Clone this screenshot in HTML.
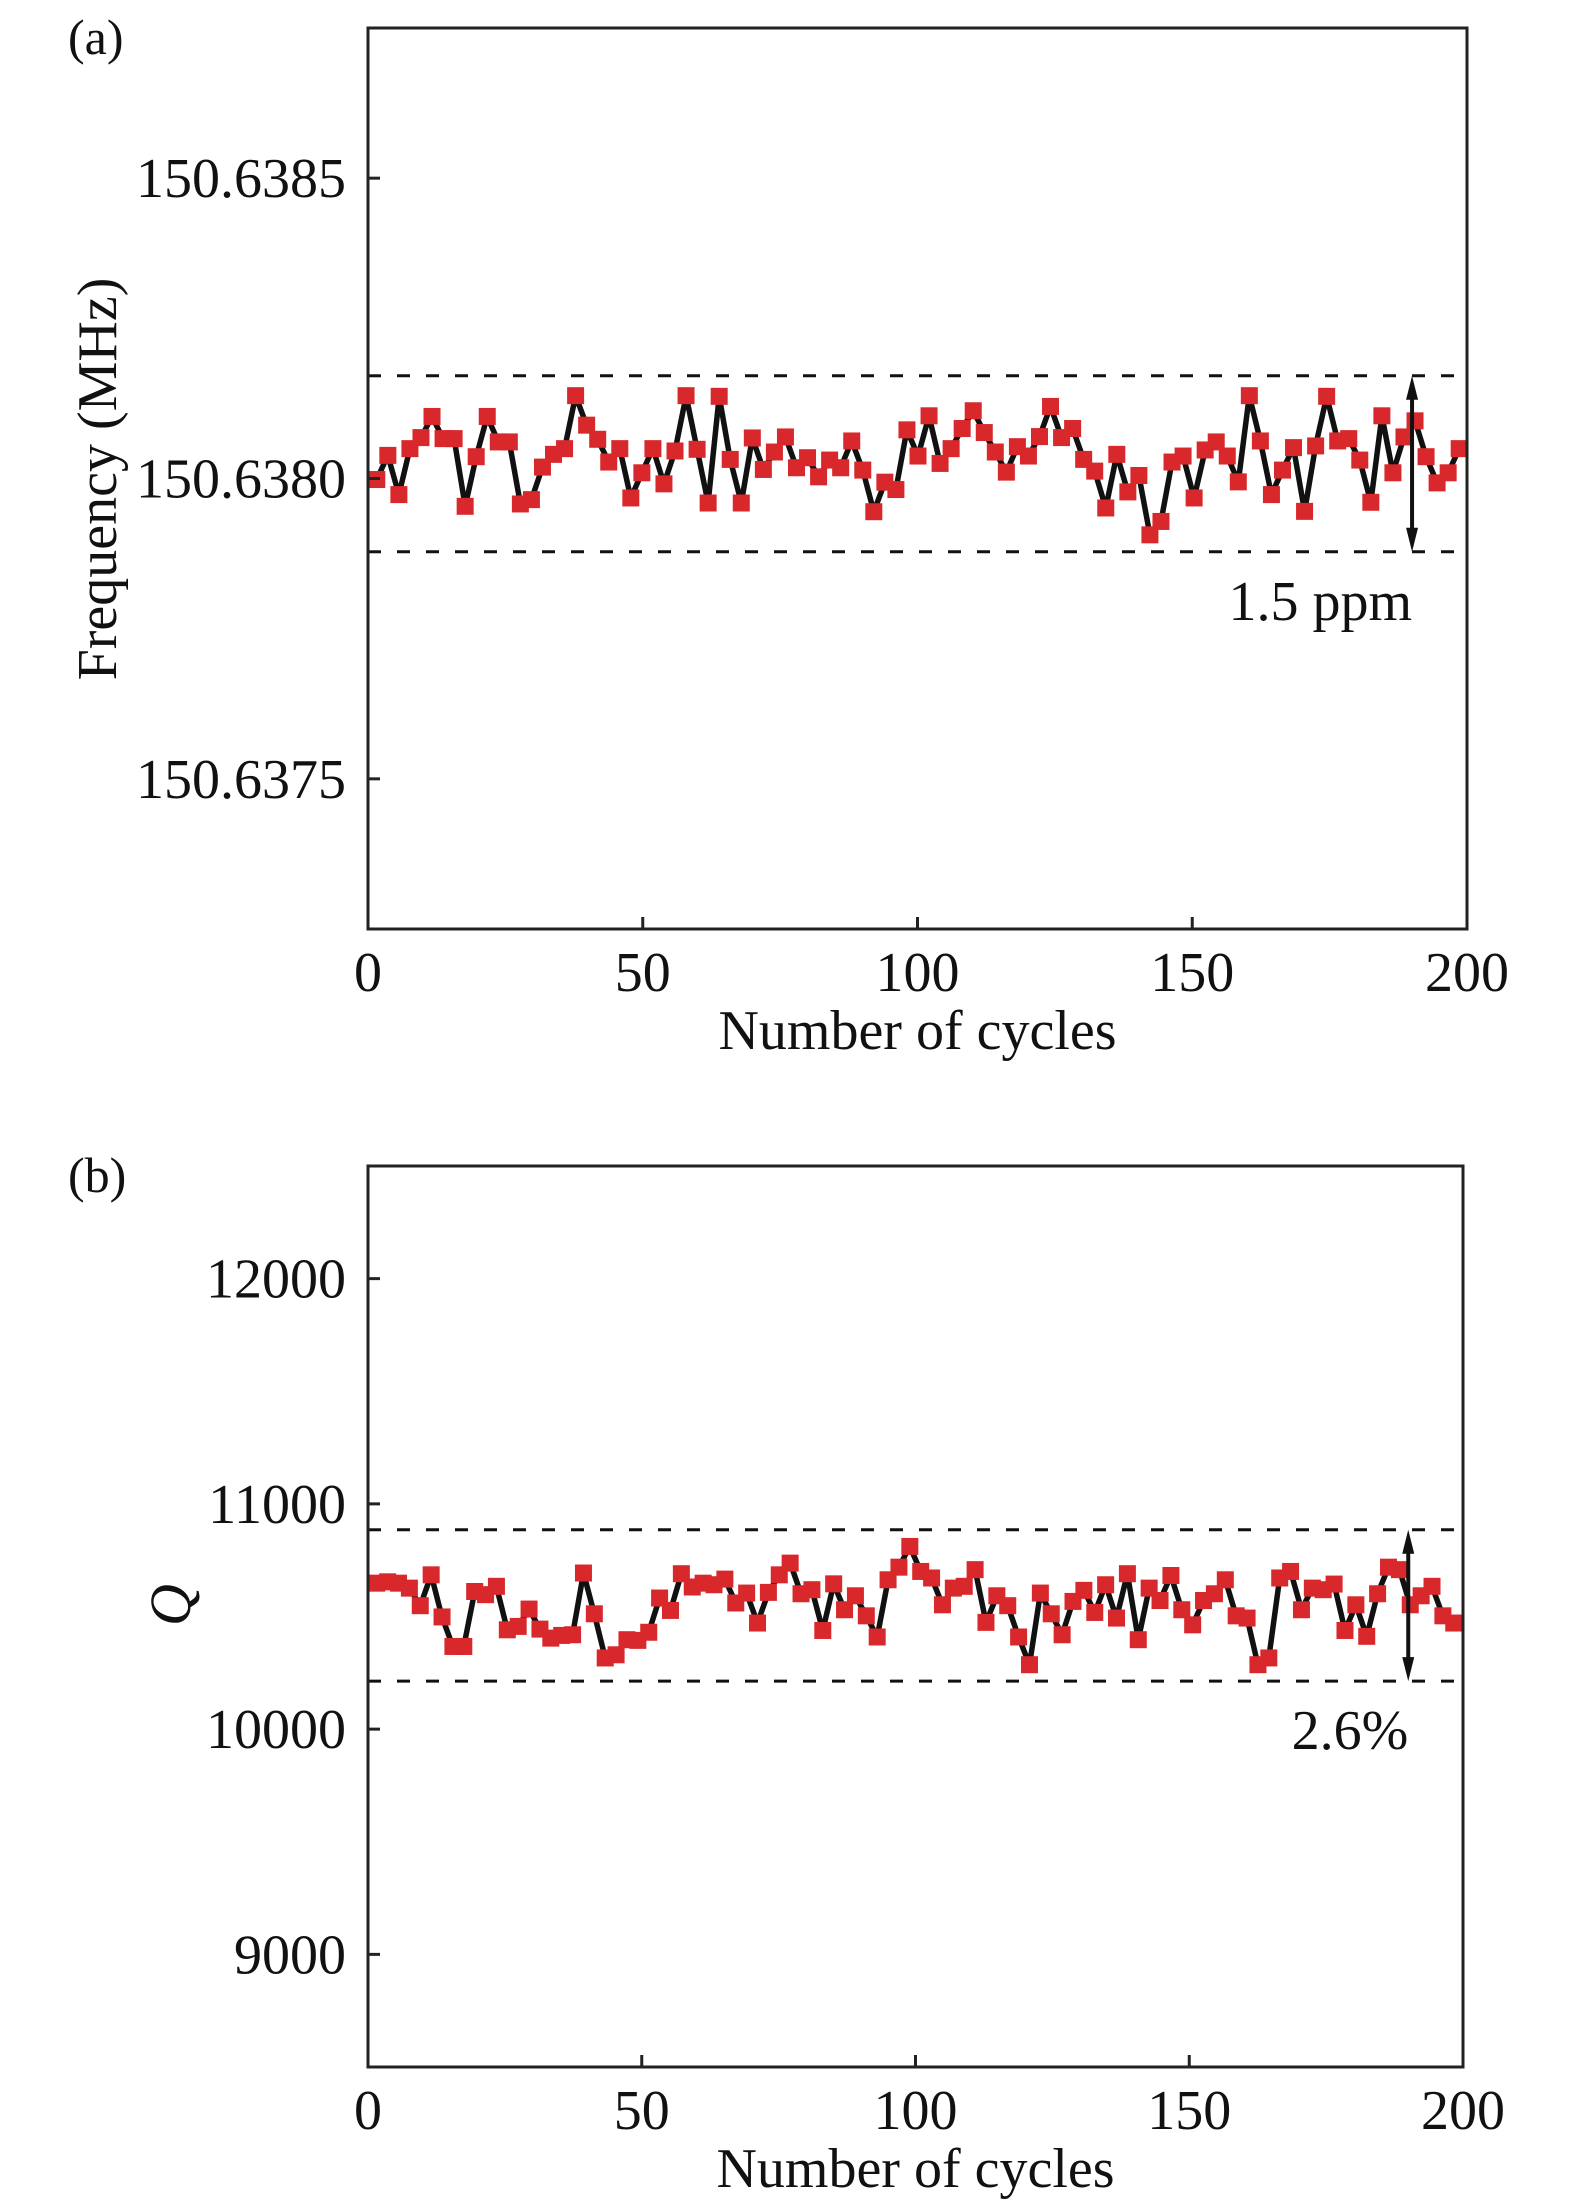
<!DOCTYPE html>
<html><head><meta charset="utf-8"><style>
html,body{margin:0;padding:0;background:#fff;}
svg{display:block;font-family:"Liberation Serif",serif;}
</style></head><body>
<svg id="fig" width="1575" height="2205" viewBox="0 0 1575 2205" xmlns="http://www.w3.org/2000/svg"></svg>
<script>
// Panel (a): frequency offset from 150.638 MHz, in Hz
const freqOffsetHz = [-1.7,38.5,-26.8,49.7,68.1,103.3,66.4,66.4,-46.3,36.3,103.3,60.9,60.9,-42.4,-35.2,19.0,40.2,49.7,137.9,88.8,65.3,27.4,49.7,-32.4,9.5,49.7,-8.9,45.8,137.9,48.6,-40.8,136.8,31.8,-40.8,67.5,15.1,44.1,69.2,17.9,34.6,2.8,30.7,17.9,62.5,14.0,-55.3,-6.1,-18.4,81.0,37.4,104.4,25.1,49.7,83.2,112.8,76.5,44.1,10.6,53.0,37.4,69.8,120.0,68.1,83.2,31.8,12.3,-49.1,40.2,-22.3,5.0,-93.8,-71.5,27.4,37.4,-32.4,47.5,60.9,37.4,-5.6,137.9,62.5,-26.8,14.0,51.4,-54.7,54.2,136.8,62.5,66.4,30.7,-39.6,104.4,9.5,69.2,96.0,36.3,-7.3,9.5,49.7];
const freqTickHz = [-500,0,500];
const freqTickLabels = ["150.6375","150.6380","150.6385"];
const freqBandHz = [171,-122];
// Panel (b): Q factor
const qValues = [10648,10654,10648,10626,10548,10685,10498,10367,10367,10611,10597,10634,10441,10456,10533,10444,10404,10416,10419,10693,10512,10316,10330,10397,10394,10430,10582,10527,10690,10631,10648,10641,10666,10560,10604,10471,10607,10685,10737,10601,10619,10438,10645,10530,10592,10503,10409,10663,10719,10811,10700,10671,10552,10626,10634,10708,10474,10592,10548,10409,10286,10604,10512,10419,10567,10616,10518,10641,10493,10690,10397,10626,10571,10682,10530,10463,10571,10601,10663,10503,10493,10286,10316,10671,10700,10530,10626,10619,10644,10438,10552,10412,10601,10719,10708,10552,10592,10634,10503,10471];
const qTicks = [9000,10000,11000,12000];
const qTickLabels = ["9000","10000","11000","12000"];
const qBand = [10885,10213];
const xTicks = [0,50,100,150,200];
const xTickLabels = ["0","50","100","150","200"];

const NS="http://www.w3.org/2000/svg";
const svg=document.getElementById('fig');
function mk(tag,attrs,parent){const e=document.createElementNS(NS,tag);for(const k in attrs)e.setAttribute(k,attrs[k]);(parent||svg).appendChild(e);return e;}

function panel(o){
  const g=mk('g',{});
  
  
  const X=v=>o.x0+(v-0)/(200-0)*(o.x1-o.x0);
  const Y=v=>o.y1-(v-o.ymin)/(o.ymax-o.ymin)*(o.y1-o.y0);
  o.band.forEach((b,i)=>{
    const l=mk('line',{x1:o.x0,x2:o.x1,y1:Y(b),y2:Y(b),stroke:'#111','stroke-width':3,'stroke-dasharray':'13 16'},g);
    
    
  });
  const xs=o.vals.map((v,i)=>o.xStart+i*o.xStep);
  const pts=o.vals.map((v,i)=>X(xs[i]).toFixed(1)+','+Y(v).toFixed(1)).join(' ');
  const pl=mk('polyline',{points:pts,fill:'none',stroke:'#111','stroke-width':5.5,'stroke-linejoin':'round','stroke-linecap':'round'},g);
  
  
  o.vals.forEach((v,i)=>{
    const r=mk('rect',{x:X(xs[i])-8.5,y:Y(v)-8.5,width:17,height:17,fill:'#d8282c'},g);
    
    
  });
  const fr=mk('rect',{x:o.x0,y:o.y0,width:o.x1-o.x0,height:o.y1-o.y0,fill:'none',stroke:'#222','stroke-width':3},g);
  
  
  o.yt.forEach((t,i)=>{
    const l=mk('line',{x1:o.x0,x2:o.x0+12,y1:Y(t),y2:Y(t),stroke:'#222','stroke-width':3},g);
    
    
    const tx=mk('text',{x:o.x0-22,y:Y(t)+19,'text-anchor':'end','font-size':56,fill:'#111'},g);
    tx.textContent=o.ytl[i];
    
    
  });
  xTicks.forEach((t,i)=>{
    const l=mk('line',{x1:X(t),x2:X(t),y1:o.y1,y2:o.y1-12,stroke:'#222','stroke-width':3},g);
    
    
    const tx=mk('text',{x:X(t),y:o.y1+62,'text-anchor':'middle','font-size':56,fill:'#111'},g);
    tx.textContent=xTickLabels[i];
    
    
  });
  const xt=mk('text',{x:(o.x0+o.x1)/2,y:o.y1+120,'text-anchor':'middle','font-size':56,fill:'#111'},g);
  xt.textContent='Number of cycles';
  
  
  const ax=X(190), ya=Y(o.band[0]), yb=Y(o.band[1]);
  const al=mk('line',{x1:ax,x2:ax,y1:ya+14,y2:yb-14,stroke:'#111','stroke-width':4},g);
  
  
  const h1=mk('polygon',{points:`${ax},${ya} ${ax-6},${ya+24} ${ax+6},${ya+24}`,fill:'#111'},g);
  
  
  const h2=mk('polygon',{points:`${ax},${yb} ${ax-6},${yb-24} ${ax+6},${yb-24}`,fill:'#111'},g);
  
  
  const at=mk('text',{x:ax,y:yb+68,'text-anchor':'end','font-size':56,fill:'#111'},g);
  at.textContent=o.note;
  
  
  const pt=mk('text',{x:68,y:o.y0+26,'font-size':50,fill:'#111'},g);
  pt.textContent=o.label;
  
  
  return {g,X,Y};
}

const a=panel({name:'panel-a-frequency',x0:368,x1:1467,y0:28,y1:929,ymin:-750,ymax:750,vals:freqOffsetHz,xStart:1.6,xStep:2.01,band:freqBandHz,yt:freqTickHz,ytl:freqTickLabels,note:'1.5 ppm',label:'(a)'});
const yta=mk('text',{transform:'translate(116,479) rotate(-90)','text-anchor':'middle','font-size':56,fill:'#111'},a.g);
yta.textContent='Frequency (MHz)';



const b=panel({name:'panel-b-q',x0:368,x1:1463,y0:1166,y1:2067,ymin:8500,ymax:12500,vals:qValues,xStart:1.6,xStep:1.987,band:qBand,yt:qTicks,ytl:qTickLabels,note:'2.6%',label:'(b)'});
const ytb=mk('text',{transform:'translate(190,1605) rotate(-90)','text-anchor':'middle','font-size':58,'font-style':'italic',fill:'#111'},b.g);
ytb.textContent='Q';


</script>
</body></html>
